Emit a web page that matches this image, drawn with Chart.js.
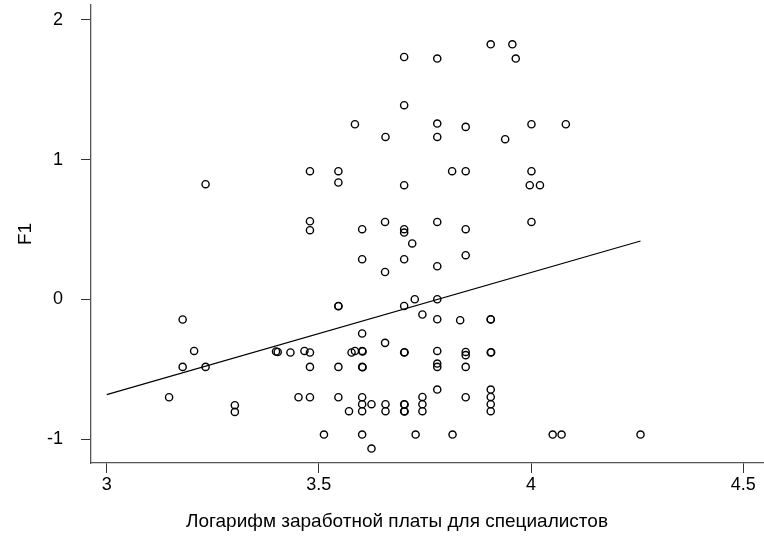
<!DOCTYPE html>
<html>
<head>
<meta charset="utf-8">
<script src="https://cdn.jsdelivr.net/npm/chart.js@4/dist/chart.umd.min.js"></script>
<style>
  body { margin: 0; background: #fff; }
  canvas { display: block; }
</style>
</head>
<body>
<canvas id="chart" width="764" height="538"></canvas>
<script>
// scatter values
const xValues = [
  3.905, 3.956, 3.701, 3.779, 3.964, 3.701, 3.585, 3.779, 4.001, 4.082,
  3.846, 3.657, 3.779, 3.939, 3.479, 3.546, 3.814, 3.846, 4.001, 3.546,
  3.701, 3.233, 3.997, 4.021, 3.479, 3.656, 3.779, 4.001, 3.479, 3.602,
  3.701, 3.701, 3.846, 3.720, 3.602, 3.701, 3.846, 3.656, 3.779, 3.546,
  3.546, 3.701, 3.726, 3.779, 3.744, 3.179, 3.779, 3.833, 3.905, 3.905,
  3.602, 3.656, 3.206, 3.399, 3.403, 3.433, 3.466, 3.479, 3.577, 3.585,
  3.602, 3.603, 3.701, 3.702, 3.779, 3.846, 3.846, 3.905, 3.906, 3.179,
  3.233, 3.479, 3.546, 3.602, 3.603, 3.779, 3.779, 3.846, 3.779, 3.905,
  3.905, 3.905, 3.905, 3.147, 3.452, 3.479, 3.546, 3.602, 3.602, 3.602,
  3.624, 3.571, 3.657, 3.657, 3.701, 3.702, 3.701, 3.702, 3.744, 3.744,
  3.744, 3.846, 3.302, 3.302, 3.512, 3.602, 3.728, 3.815, 4.051, 4.072,
  4.258, 3.624
];
const yValues = [
  1.826, 1.826, 1.735, 1.724, 1.724, 1.390, 1.254, 1.259, 1.254, 1.254,
  1.235, 1.163, 1.163, 1.147, 0.918, 0.918, 0.918, 0.918, 0.918, 0.837,
  0.818, 0.825, 0.818, 0.818, 0.560, 0.555, 0.555, 0.555, 0.496, 0.503,
  0.503, 0.479, 0.503, 0.401, 0.288, 0.288, 0.317, 0.197, 0.238, -0.046,
  -0.048, -0.046, 0.002, 0.002, -0.107, -0.143, -0.141, -0.148, -0.141, -0.143,
  -0.243, -0.310, -0.368, -0.372, -0.375, -0.379, -0.368, -0.379, -0.379, -0.368,
  -0.368, -0.372, -0.379, -0.377, -0.368, -0.375, -0.398, -0.379, -0.377, -0.482,
  -0.482, -0.482, -0.482, -0.482, -0.484, -0.458, -0.482, -0.482, -0.644, -0.644,
  -0.697, -0.749, -0.799, -0.699, -0.699, -0.699, -0.699, -0.699, -0.749, -0.799,
  -0.749, -0.799, -0.749, -0.799, -0.749, -0.751, -0.799, -0.801, -0.697, -0.749,
  -0.799, -0.699, -0.756, -0.804, -0.966, -0.966, -0.966, -0.966, -0.966, -0.966,
  -0.966, -1.066
];

// fitted line end points
const lineX = [3.0, 4.258];
const lineY = [-0.680, 0.419];

const xTicks = [3, 3.5, 4, 4.5];
const yTicks = [-1, 0, 1, 2];

const xTitle = 'Логарифм заработной платы для специалистов';
const yTitle = 'F1';

const fontFamily = '"Liberation Sans", Arial, sans-serif';
const tickFont = { family: fontFamily, size: 18 };
const titleFont = { family: fontFamily, size: 19 };

// x title sits a bit left of the axis centre in the original, so draw it by hand
const xTitlePlugin = {
  id: 'xTitle',
  afterDraw(chart) {
    const ctx = chart.ctx;
    ctx.save();
    ctx.font = titleFont.size + 'px ' + fontFamily;
    ctx.fillStyle = '#000';
    ctx.textAlign = 'center';
    ctx.textBaseline = 'middle';
    ctx.fillText(xTitle, 397, 522);
    ctx.restore();
  }
};

new Chart(document.getElementById('chart'), {
  type: 'scatter',
  data: {
    datasets: [
      {
        data: xValues.map((x, i) => ({ x: x, y: yValues[i] })),
        pointStyle: 'circle',
        pointRadius: 3.6,
        pointBorderWidth: 1.4,
        pointBorderColor: '#000',
        pointBackgroundColor: 'rgba(0,0,0,0)',
        showLine: false
      },
      {
        data: lineX.map((x, i) => ({ x: x, y: lineY[i] })),
        showLine: true,
        borderColor: '#000',
        borderWidth: 1.2,
        pointRadius: 0,
        fill: false
      }
    ]
  },
  plugins: [xTitlePlugin],
  options: {
    responsive: false,
    animation: false,
    layout: { autoPadding: false, padding: { top: 5, right: 0, left: 0, bottom: 0 } },
    plugins: {
      legend: { display: false },
      tooltip: { enabled: false }
    },
    scales: {
      x: {
        type: 'linear',
        min: 2.963,
        max: 4.549,
        afterBuildTicks: (s) => { s.ticks = xTicks.map(v => ({ value: v })); },
        afterFit: (s) => {
          s.height = 75;
          s.paddingLeft = 0; s.paddingRight = 0;
        },
        border: { display: true, color: '#555', width: 1.3 },
        grid: { drawOnChartArea: false, drawTicks: true, tickLength: 10, color: '#333' },
        ticks: {
          autoSkip: false,
          maxRotation: 0,
          padding: 1,
          color: '#000',
          font: tickFont,
          callback: (v) => String(v)
        },
        title: { display: false }
      },
      y: {
        type: 'linear',
        min: -1.1695,
        max: 2.107,
        afterBuildTicks: (s) => { s.ticks = yTicks.map(v => ({ value: v })); },
        afterFit: (s) => {
          s.width = 91;
          s.paddingTop = 0; s.paddingBottom = 0;
        },
        border: { display: true, color: '#555', width: 1.3 },
        grid: { drawOnChartArea: false, drawTicks: true, tickLength: 10, color: '#333' },
        ticks: {
          autoSkip: false,
          padding: 18,
          color: '#000',
          font: tickFont,
          callback: (v) => String(v)
        },
        title: {
          display: true,
          text: yTitle,
          color: '#000',
          font: titleFont,
          padding: { top: 14, bottom: 0 }
        }
      }
    }
  }
});
</script>
</body>
</html>
